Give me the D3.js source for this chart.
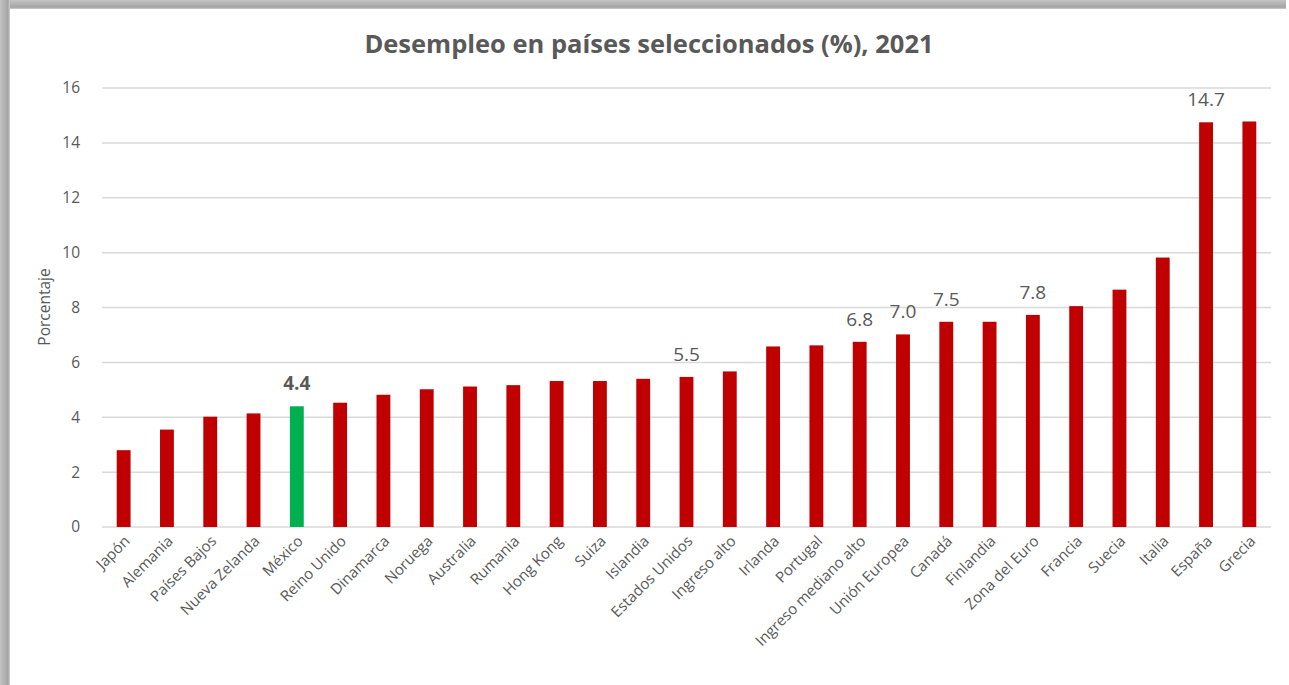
<!DOCTYPE html>
<html lang="es">
<head>
<meta charset="UTF-8">
<title>Desempleo en países seleccionados</title>
<script src="https://d3js.org/d3.v7.min.js"></script>
<style>
  body { margin: 0; background: #fff; }
  text { font-family: "Open Sans", Lato, sans-serif; fill: #595959; }
  .grid line { stroke: #d9d9d9; stroke-width: 1.5px; }
  .title { font-size: 25.5px; font-weight: bold; }
  .tick-y { font-size: 15.5px; }
  .tick-x { font-size: 15px; }
  .value { font-size: 19px; }
</style>
</head>
<body>
<svg width="1289" height="685"></svg>
<script>
// categories and values (%)
const countries = ["Japón", "Alemania", "Países Bajos", "Nueva Zelanda", "México", "Reino Unido",
  "Dinamarca", "Noruega", "Australia", "Rumania", "Hong Kong", "Suiza", "Islandia",
  "Estados Unidos", "Ingreso alto", "Irlanda", "Portugal", "Ingreso mediano alto",
  "Unión Europea", "Canadá", "Finlandia", "Zona del Euro", "Francia", "Suecia",
  "Italia", "España", "Grecia"];
const unemployment = [2.8, 3.55, 4.02, 4.14, 4.4, 4.53, 4.82, 5.02, 5.12, 5.17, 5.32, 5.32, 5.4,
  5.47, 5.67, 6.58, 6.62, 6.75, 7.02, 7.48, 7.48, 7.73, 8.05, 8.65, 9.82, 14.75, 14.78];
// only some bars carry a label in the original
const labelled = { "México": "4.4", "Estados Unidos": "5.5", "Ingreso mediano alto": "6.8",
  "Unión Europea": "7.0", "Canadá": "7.5", "Zona del Euro": "7.8", "España": "14.7" };
const yTicks = [0, 2, 4, 6, 8, 10, 12, 14, 16];

const svg = d3.select("svg");

// gray frame on the left and top edges
const defs = svg.append("defs");
const gl = defs.append("linearGradient").attr("id", "edgeL").attr("x1", 0).attr("x2", 1).attr("y1", 0).attr("y2", 0);
gl.append("stop").attr("offset", "0%").attr("stop-color", "#c4c4c4");
gl.append("stop").attr("offset", "80%").attr("stop-color", "#a4a4a4");
gl.append("stop").attr("offset", "100%").attr("stop-color", "#d0d0d0");
const gt = defs.append("linearGradient").attr("id", "edgeT").attr("x1", 0).attr("x2", 0).attr("y1", 0).attr("y2", 1);
gt.append("stop").attr("offset", "0%").attr("stop-color", "#c4c4c4");
gt.append("stop").attr("offset", "80%").attr("stop-color", "#a4a4a4");
gt.append("stop").attr("offset", "100%").attr("stop-color", "#d0d0d0");
svg.append("rect").attr("x", 0).attr("y", 0).attr("width", 1289).attr("height", 685).attr("fill", "#fff");
svg.append("rect").attr("x", 0).attr("y", 0).attr("width", 1286).attr("height", 9).attr("fill", "url(#edgeT)");
svg.append("rect").attr("x", 0).attr("y", 0).attr("width", 10).attr("height", 685).attr("fill", "url(#edgeL)");

const margin = { left: 102, right: 18, top: 88, bottom: 158 };
const width = 1289 - margin.left - margin.right;
const height = 685 - margin.top - margin.bottom;

const g = svg.append("g").attr("transform", `translate(${margin.left},${margin.top})`);

const x = d3.scaleBand().domain(countries).range([0, width]).paddingInner(0.68).paddingOuter(0.34);
const y = d3.scaleLinear().domain([0, 16]).range([height, 0]);

// gridlines
g.append("g").attr("class", "grid")
  .selectAll("line").data(yTicks).join("line")
  .attr("x1", 0).attr("x2", width)
  .attr("y1", d => y(d)).attr("y2", d => y(d));

// y axis labels
const yAxis = g.append("g").call(d3.axisLeft(y).tickValues(yTicks).tickSize(0).tickPadding(22));
yAxis.select(".domain").remove();
yAxis.selectAll("text").attr("class", "tick-y").style("font-family", null).style("font-size", null).attr("fill", null);

// bars
g.selectAll("rect.bar").data(countries).join("rect")
  .attr("class", "bar")
  .attr("x", d => x(d))
  .attr("width", x.bandwidth())
  .attr("y", (d, i) => y(unemployment[i]))
  .attr("height", (d, i) => y(0) - y(unemployment[i]))
  .attr("fill", d => d === "México" ? "#00b050" : "#c00000");

// value labels
g.selectAll("text.value").data(countries.filter(d => labelled[d])).join("text")
  .attr("class", "value")
  .attr("x", d => x(d) + x.bandwidth() / 2)
  .attr("y", d => y(unemployment[countries.indexOf(d)]) - 16)
  .attr("text-anchor", "middle")
  .style("font-weight", d => d === "México" ? "bold" : "normal")
  .text(d => labelled[d]);

// x axis labels
const xAxis = g.append("g").attr("transform", `translate(0,${height})`)
  .call(d3.axisBottom(x).tickSize(0).tickPadding(0));
xAxis.select(".domain").remove();
xAxis.selectAll("text")
  .attr("class", "tick-x")
  .attr("fill", null)
  .style("font-family", null).style("font-size", null)
  .attr("text-anchor", "end")
  .attr("dy", null)
  .attr("transform", "translate(7,15) rotate(-45)");

// axis title
svg.append("text").attr("class", "tick-y")
  .attr("transform", "translate(50,307) rotate(-90)")
  .attr("text-anchor", "middle")
  .text("Porcentaje");

// chart title
svg.append("text").attr("class", "title")
  .attr("x", 649).attr("y", 53)
  .attr("text-anchor", "middle")
  .text("Desempleo en países seleccionados (%), 2021");
</script>
</body>
</html>
